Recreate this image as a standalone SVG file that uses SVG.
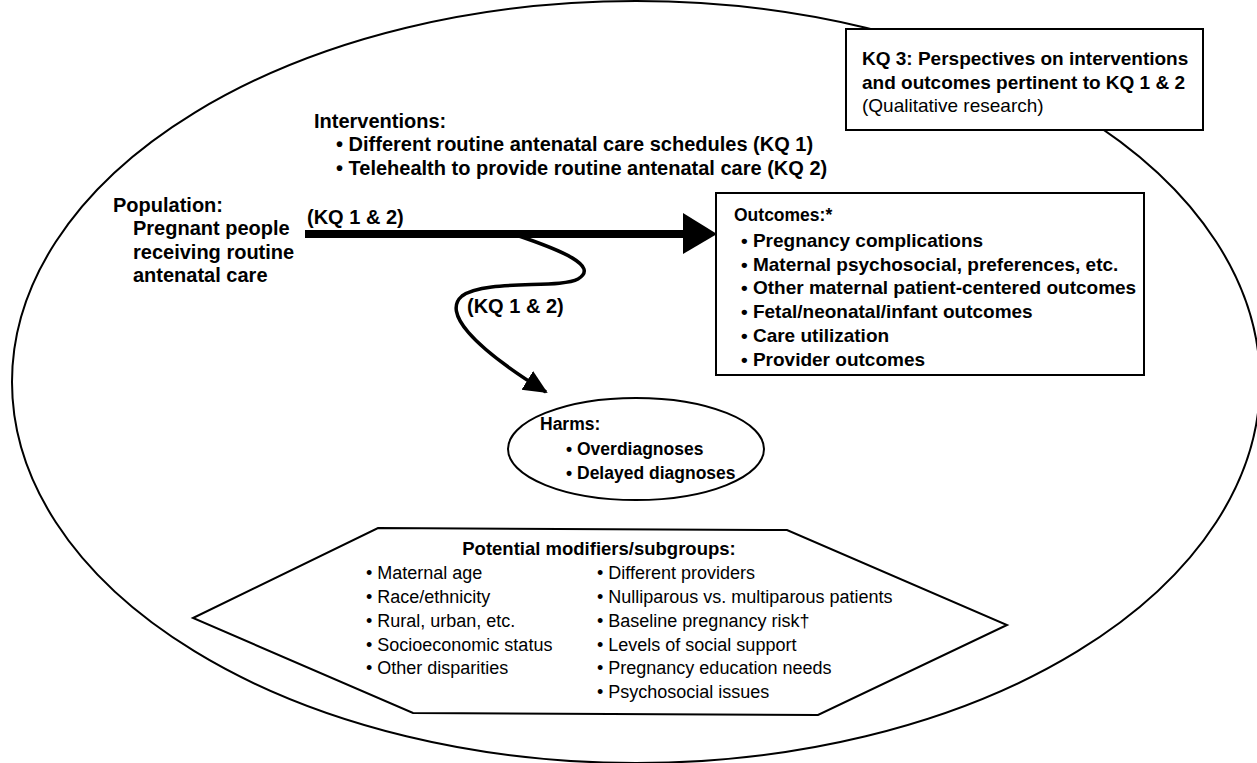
<svg xmlns="http://www.w3.org/2000/svg" width="1257" height="763" viewBox="0 0 1257 763">
<style>
text{font-family:"Liberation Sans",Arial,sans-serif;fill:#000}
.b{font-weight:bold;font-size:19px}
.b20{font-weight:bold;font-size:20px}
.h{font-weight:bold;font-size:17.5px}
.r{font-size:18px}
.q{font-size:19px}
.s{font-weight:bold;font-size:17.5px}
.shape{fill:#fff;stroke:#000;stroke-width:2}
</style>
<defs>
<marker id="ah" markerUnits="userSpaceOnUse" markerWidth="26" markerHeight="26" viewBox="0 0 26 26" refX="22" refY="13" orient="auto">
<path d="M0,2 L24,13 L0,24 Z" fill="#000"/>
</marker>
</defs>
<rect width="1257" height="763" fill="#fff"/>
<g id="scope">
<ellipse cx="636" cy="382" rx="624" ry="381" fill="#fff" stroke="#000" stroke-width="2"/>
</g>
<g id="kq3">
<rect class="shape" x="846" y="29" width="357" height="101"/>
<text class="b" x="862" y="65">KQ 3: Perspectives on interventions</text>
<text class="b" x="862" y="89">and outcomes pertinent to KQ 1 &amp; 2</text>
<text class="q" x="862" y="112">(Qualitative research)</text>
</g>
<g id="interventions">
<text class="b20" x="314" y="128">Interventions:</text>
<text class="b20" x="336" y="151">• Different routine antenatal care schedules (KQ 1)</text>
<text class="b20" x="336" y="175">• Telehealth to provide routine antenatal care  (KQ 2)</text>
</g>
<g id="population">
<text class="b20" x="113" y="212">Population:</text>
<text class="b20" x="133" y="235">Pregnant people</text>
<text class="b20" x="133" y="259">receiving routine</text>
<text class="b20" x="133" y="282">antenatal care</text>
</g>
<g id="connectors">
<line x1="305" y1="234" x2="686" y2="234" stroke="#000" stroke-width="8"/>
<polygon points="683,213 717,234 683,254" fill="#000"/>
<path d="M519,236 C560,250 600,266 578,279 C560,289 485,279 462,296 C443,312 470,345 546,392" fill="none" stroke="#000" stroke-width="3.5" marker-end="url(#ah)"/>
<text class="b20" x="307" y="224">(KQ 1 &amp; 2)</text>
<text class="b20" x="467" y="313">(KQ 1 &amp; 2)</text>
</g>
<g id="outcomes">
<rect class="shape" x="716" y="193" width="428" height="182"/>
<text class="s" x="734" y="221">Outcomes:*</text>
<text class="b" x="741" y="247">• Pregnancy complications</text>
<text class="b" x="741" y="271">• Maternal psychosocial, preferences, etc.</text>
<text class="b" x="741" y="294">• Other maternal patient-centered outcomes</text>
<text class="b" x="741" y="318">• Fetal/neonatal/infant outcomes</text>
<text class="b" x="741" y="342">• Care utilization</text>
<text class="b" x="741" y="366">• Provider outcomes</text>
</g>
<g id="harms">
<ellipse class="shape" cx="636" cy="449" rx="128" ry="51"/>
<text class="h" x="540" y="430">Harms:</text>
<text class="h" x="566" y="455">• Overdiagnoses</text>
<text class="h" x="566" y="479">• Delayed diagnoses</text>
</g>
<g id="modifiers">
<polygon class="shape" points="378,528 787,530 1007,625 818,715 413,713 193,618"/>
<text class="h" x="599" y="555" text-anchor="middle" style="font-size:18.5px">Potential modifiers/subgroups:</text>
<text class="r" x="366" y="579">• Maternal age</text>
<text class="r" x="366" y="603">• Race/ethnicity</text>
<text class="r" x="366" y="627">• Rural, urban, etc.</text>
<text class="r" x="366" y="651">• Socioeconomic status</text>
<text class="r" x="366" y="674">• Other disparities</text>
<text class="r" x="597" y="579">• Different providers</text>
<text class="r" x="597" y="603">• Nulliparous vs. multiparous patients</text>
<text class="r" x="597" y="627">• Baseline pregnancy risk†</text>
<text class="r" x="597" y="651">• Levels of social support</text>
<text class="r" x="597" y="674">• Pregnancy education needs</text>
<text class="r" x="597" y="698">• Psychosocial issues</text>
</g>
</svg>
